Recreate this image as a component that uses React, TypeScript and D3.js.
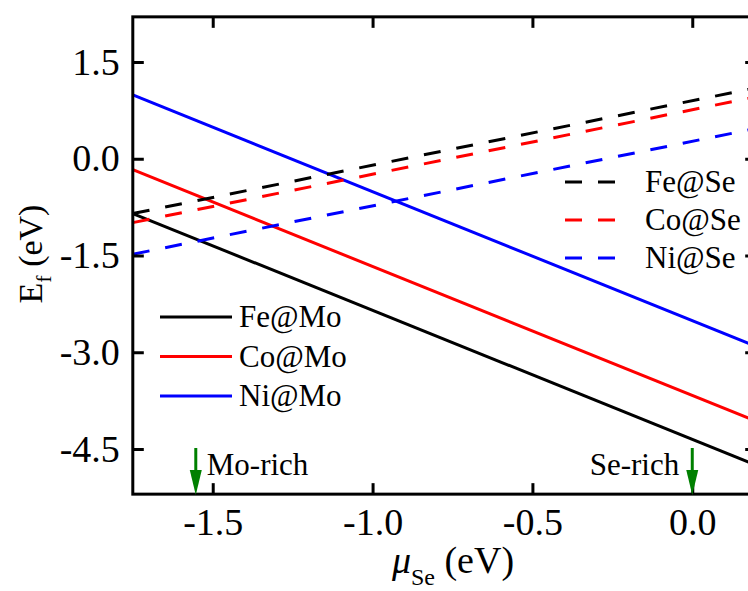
import React, { useEffect, useRef } from "react";
import * as d3 from "d3";

// chemical potential range (eV) and formation energies at both ends
const muEnds = [-1.75, 0.2];
const feMo = [-0.85, -4.75];
const coMo = [-0.17, -4.07];
const niMo = [0.99, -2.91];
const feSe = [-0.85, 1.1];
const coSe = [-0.99, 0.96];
const niSe = [-1.48, 0.47];

const xTicks = [-1.5, -1.0, -0.5, 0.0];
const yTicks = [1.5, 0.0, -1.5, -3.0, -4.5];

const moSeries = [
  { name: "Fe@Mo", values: feMo, color: "#000000" },
  { name: "Co@Mo", values: coMo, color: "#ff0000" },
  { name: "Ni@Mo", values: niMo, color: "#0000ff" },
];
const seSeries = [
  { name: "Fe@Se", values: feSe, color: "#000000" },
  { name: "Co@Se", values: coSe, color: "#ff0000" },
  { name: "Ni@Se", values: niSe, color: "#0000ff" },
];

const markers = [
  { label: "Mo-rich", mu: -1.553, anchor: "start" },
  { label: "Se-rich", mu: 0.0, anchor: "end" },
];

const FONT = "'Liberation Serif', 'Times New Roman', serif";

const App = () => {
  const svgRef = useRef<SVGSVGElement>(null);

  useEffect(() => {
    const svg = d3.select(svgRef.current);
    svg.selectAll("*").remove();

    const x = d3.scaleLinear().domain([-1.75, 0.2]).range([132.8, 756.2]);
    const y = d3.scaleLinear().domain([-5.2, 2.2]).range([494.15, 16.85]);
    const [x0, x1] = x.range();
    const [y0, y1] = y.range();

    svg
      .append("defs")
      .append("clipPath")
      .attr("id", "plot")
      .append("rect")
      .attr("x", x0)
      .attr("y", y1)
      .attr("width", x1 - x0)
      .attr("height", y0 - y1);

    const line = d3
      .line<number>()
      .x((_, i) => x(muEnds[i]))
      .y((d) => y(d));

    const lines = svg.append("g").attr("clip-path", "url(#plot)");
    moSeries.forEach((s) => {
      lines
        .append("path")
        .attr("d", line(s.values))
        .attr("fill", "none")
        .attr("stroke", s.color)
        .attr("stroke-width", 3);
    });
    seSeries.forEach((s) => {
      lines
        .append("path")
        .attr("d", line(s.values))
        .attr("fill", "none")
        .attr("stroke", s.color)
        .attr("stroke-width", 3)
        .attr("stroke-dasharray", "17,16");
    });

    // axes, ticks inward
    const styleAxis = (g, labels) => {
      g.select(".domain").remove();
      g.selectAll(".tick line").attr("stroke", "#000").attr("stroke-width", 3);
      g.selectAll(".tick text")
        .attr("font-family", FONT)
        .attr("font-size", 38)
        .attr("fill", "#000");
      if (!labels) g.selectAll(".tick text").remove();
    };
    const fmt = (d) => (+d).toFixed(1);

    svg
      .append("g")
      .attr("transform", `translate(0,${y0})`)
      .call(d3.axisBottom(x).tickValues(xTicks).tickFormat(fmt).tickSizeInner(-11).tickSizeOuter(0).tickPadding(14))
      .call((g) => styleAxis(g, true));
    svg
      .append("g")
      .attr("transform", `translate(0,${y1})`)
      .call(d3.axisTop(x).tickValues(xTicks).tickSizeInner(-11).tickSizeOuter(0))
      .call((g) => styleAxis(g, false));
    svg
      .append("g")
      .attr("transform", `translate(${x0},0)`)
      .call(d3.axisLeft(y).tickValues(yTicks).tickFormat(fmt).tickSizeInner(-11).tickSizeOuter(0).tickPadding(13))
      .call((g) => styleAxis(g, true));
    svg
      .append("g")
      .attr("transform", `translate(${x1},0)`)
      .call(d3.axisRight(y).tickValues(yTicks).tickSizeInner(-11).tickSizeOuter(0))
      .call((g) => styleAxis(g, false));

    svg
      .append("rect")
      .attr("x", x0)
      .attr("y", y1)
      .attr("width", x1 - x0)
      .attr("height", y0 - y1)
      .attr("fill", "none")
      .attr("stroke", "#000")
      .attr("stroke-width", 3);

    // legends
    const legMo = svg.append("g").attr("font-family", FONT).attr("font-size", 31);
    moSeries.forEach((s, i) => {
      const ly = 317 + i * 39.5;
      legMo.append("line").attr("x1", 160).attr("x2", 232).attr("y1", ly).attr("y2", ly)
        .attr("stroke", s.color).attr("stroke-width", 3);
      legMo.append("text").attr("x", 239).attr("y", ly + 10).text(s.name);
    });
    const legSe = svg.append("g").attr("font-family", FONT).attr("font-size", 31);
    seSeries.forEach((s, i) => {
      const ly = 182 + i * 38;
      legSe.append("line").attr("x1", 565).attr("x2", 615).attr("y1", ly).attr("y2", ly)
        .attr("stroke", s.color).attr("stroke-width", 3).attr("stroke-dasharray", "17,16");
      legSe.append("text").attr("x", 645).attr("y", ly + 10).text(s.name);
    });

    // rich-limit arrows
    markers.forEach((m) => {
      const mx = x(m.mu);
      svg.append("line").attr("x1", mx).attr("x2", mx).attr("y1", 448).attr("y2", 472)
        .attr("stroke", "#008000").attr("stroke-width", 3);
      svg.append("path")
        .attr("d", `M${mx - 6},470 L${mx + 6},470 L${mx},495 Z`)
        .attr("fill", "#008000");
      svg.append("text")
        .attr("x", m.anchor === "start" ? mx + 11 : mx - 13)
        .attr("y", 475)
        .attr("text-anchor", m.anchor)
        .attr("font-family", FONT)
        .attr("font-size", 31)
        .text(m.label);
    });

    // axis titles
    const xt = svg.append("text")
      .attr("x", 453).attr("y", 573)
      .attr("text-anchor", "middle")
      .attr("font-family", FONT).attr("font-size", 38);
    xt.append("tspan").attr("font-style", "italic").text("μ");
    xt.append("tspan").attr("font-size", 24).attr("dy", 12).text("Se");
    xt.append("tspan").attr("dy", -12).text(" (eV)");

    const yt = svg.append("text")
      .attr("transform", "translate(42,254) rotate(-90)")
      .attr("text-anchor", "middle")
      .attr("font-family", FONT).attr("font-size", 34);
    yt.append("tspan").text("E");
    yt.append("tspan").attr("font-size", 22).attr("dy", 9).text("f");
    yt.append("tspan").attr("dy", -9).text(" (eV)");
  }, []);

  return (
    <svg
      ref={svgRef}
      width={748}
      height={591}
      style={{ position: "absolute", left: 0, top: 0, background: "#fff" }}
    />
  );
};

export default App;
